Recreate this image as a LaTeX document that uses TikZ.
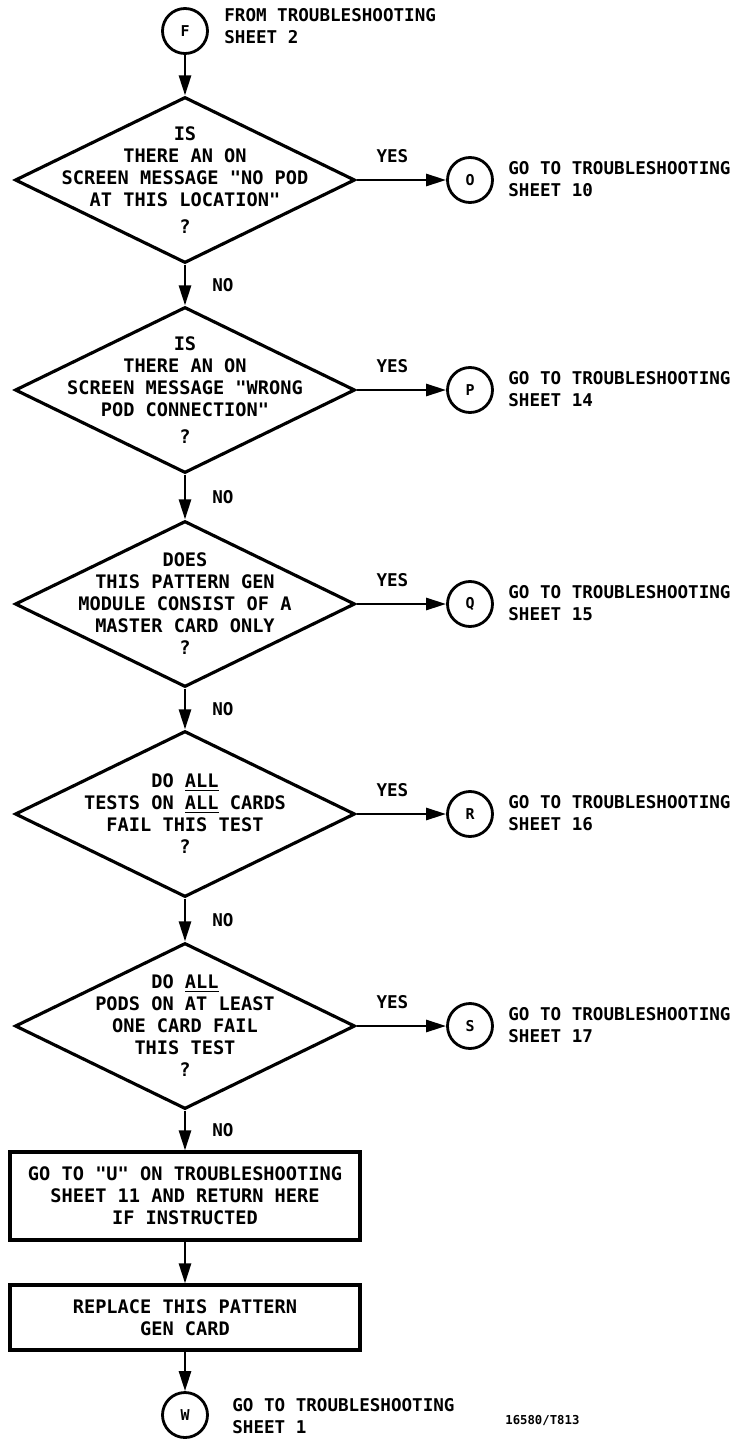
\documentclass[tikz,border=0pt]{standalone}
\usepackage{fontspec}
\newfontfamily\plotfont{DejaVu Sans Mono}
\usetikzlibrary{shapes.geometric, arrows.meta, positioning}
\tikzset{
  decision/.style={diamond, draw, line width=1.8pt,
    minimum width=6.8cm, minimum height=3.32cm, inner sep=0pt},
  dtext/.style={align=center, inner sep=0pt,
    font=\plotfont\bfseries\fontsize{10.6}{12.5}\selectfont},
  process/.style={rectangle, draw, line width=1.8pt, minimum width=7cm,
    align=center, font=\plotfont\bfseries\fontsize{10.6}{12.5}\selectfont},
  onpage/.style={circle, draw, line width=1.6pt, minimum size=0.9cm,
    inner sep=0pt, font=\plotfont\bfseries\fontsize{8.5}{10}\selectfont},
  note/.style={anchor=west, align=left, inner sep=0pt,
    font=\plotfont\bfseries\fontsize{10}{12.5}\selectfont},
  answer/.style={inner sep=2pt, font=\plotfont\bfseries\fontsize{10}{12}\selectfont},
  arrow/.style={-{Triangle[length=0.4cm, width=0.24cm]}, line width=1.5pt}
}
\begin{document}
\begin{tikzpicture}
  \useasboundingbox (0,0) rectangle (14.9,-28.78);

  % entry
  \node[onpage] (cF) at (3.7,-0.62) {F};
  \node[note] (tF) at (4.48,-0.52) {FROM TROUBLESHOOTING\\SHEET 2};

  % decisions
  \node[decision] (d1) at (3.7,-3.6) {};
  \node[dtext] (d1t) at (d1) {IS\\THERE AN ON\\SCREEN MESSAGE "NO POD\\AT THIS LOCATION"\\[3pt]?};
  \node[decision] (d2) at (3.7,-7.8) {};
  \node[dtext] (d2t) at (d2) {IS\\THERE AN ON\\SCREEN MESSAGE "WRONG\\POD CONNECTION"\\[3pt]?};
  \node[decision] (d3) at (3.7,-12.08) {};
  \node[dtext] (d3t) at (d3) {DOES\\THIS PATTERN GEN\\MODULE CONSIST OF A\\MASTER CARD ONLY\\?};
  \node[decision] (d4) at (3.7,-16.28) {};
  \node[dtext] (d4t) at (d4) {DO \underline{ALL}\\TESTS ON \underline{ALL} CARDS\\FAIL THIS TEST\\?};
  \node[decision] (d5) at (3.7,-20.52) {};
  \node[dtext] (d5t) at (d5) {DO \underline{ALL}\\PODS ON AT LEAST\\ONE CARD FAIL\\THIS TEST\\?};

  % off-page connectors
  \node[onpage] (cO) at (9.4,-3.6) {O};
  \node[note] (tO) at (10.16,-3.58) {GO TO TROUBLESHOOTING\\SHEET 10};
  \node[onpage] (cP) at (9.4,-7.8) {P};
  \node[note] (tP) at (10.16,-7.78) {GO TO TROUBLESHOOTING\\SHEET 14};
  \node[onpage] (cQ) at (9.4,-12.08) {Q};
  \node[note] (tQ) at (10.16,-12.06) {GO TO TROUBLESHOOTING\\SHEET 15};
  \node[onpage] (cR) at (9.4,-16.28) {R};
  \node[note] (tR) at (10.16,-16.26) {GO TO TROUBLESHOOTING\\SHEET 16};
  \node[onpage] (cS) at (9.4,-20.52) {S};
  \node[note] (tS) at (10.16,-20.5) {GO TO TROUBLESHOOTING\\SHEET 17};

  % actions
  \node[process, minimum height=1.76cm] (b1) at (3.7,-23.92) {GO TO "U" ON TROUBLESHOOTING\\SHEET 11 AND RETURN HERE\\IF INSTRUCTED};
  \node[process, minimum height=1.3cm] (b2) at (3.7,-26.35) {REPLACE THIS PATTERN\\GEN CARD};

  % exit
  \node[onpage] (cW) at (3.7,-28.3) {W};
  \node[note] (tW) at (4.64,-28.32) {GO TO TROUBLESHOOTING\\SHEET 1};
  \node[note, font=\plotfont\bfseries\fontsize{7}{8}\selectfont] (ref) at (10.1,-28.4) {16580/T813};

  \draw[arrow] (cF) -- (d1);
  \draw[arrow] (d1) -- node[answer, above=0.25cm, pos=0.4] {YES} (cO);
  \draw[arrow] (d2) -- node[answer, above=0.25cm, pos=0.4] {YES} (cP);
  \draw[arrow] (d3) -- node[answer, above=0.25cm, pos=0.4] {YES} (cQ);
  \draw[arrow] (d4) -- node[answer, above=0.25cm, pos=0.4] {YES} (cR);
  \draw[arrow] (d5) -- node[answer, above=0.25cm, pos=0.4] {YES} (cS);
  \draw[arrow] (d1) -- node[answer, right=0.45cm] {NO} (d2);
  \draw[arrow] (d2) -- node[answer, right=0.45cm] {NO} (d3);
  \draw[arrow] (d3) -- node[answer, right=0.45cm] {NO} (d4);
  \draw[arrow] (d4) -- node[answer, right=0.45cm] {NO} (d5);
  \draw[arrow] (d5) -- node[answer, right=0.45cm] {NO} (b1);
  \draw[arrow] (b1) -- (b2);
  \draw[arrow] (b2) -- (cW);
\end{tikzpicture}
\end{document}
